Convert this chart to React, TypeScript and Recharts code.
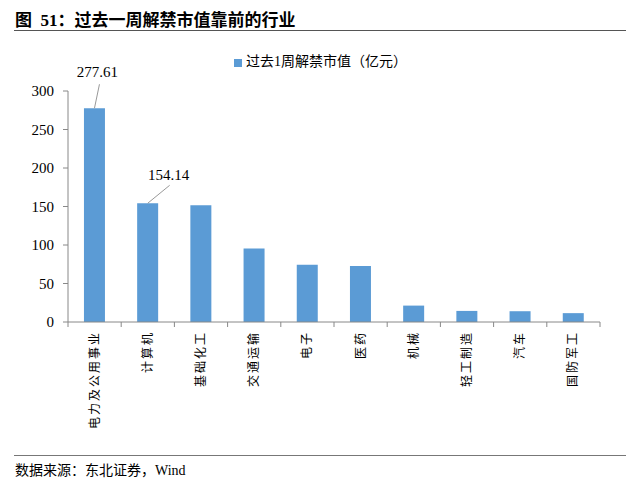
import React from "react";
import { BarChart, Bar, XAxis, YAxis, Legend, LabelList } from "recharts";

const categories = ["电力及公用事业", "计算机", "基础化工", "交通运输", "电子", "医药", "机械", "轻工制造", "汽车", "国防军工"];
const unlockValues = [277.61, 154.14, 151.6, 95.6, 74.3, 72.7, 21.3, 14.4, 14.0, 11.5];
const yTicks = [0, 50, 100, 150, 200, 250, 300];
const labelledBars = [0, 1];

const seriesName = "过去1周解禁市值（亿元）";
const serif = "'Liberation Serif', 'Noto Sans CJK SC', serif";

const data = categories.map((c, i) => ({ name: c, value: unlockValues[i] }));

// x轴刻度：文字竖排，刻度线画在类目边界
const XTick = (props: any) => {
  const { x, y, payload, index } = props;
  const half = payload.offset || 0;
  return (
    <g>
      <line x1={x - half} y1={y - 8} x2={x - half} y2={y - 3} stroke="#888" />
      {index === categories.length - 1 && (
        <line x1={x + half} y1={y - 8} x2={x + half} y2={y - 3} stroke="#888" />
      )}
      <text
        transform={`translate(${x + 4},${y + 1}) rotate(-90)`}
        textAnchor="end"
        fontSize={12}
        letterSpacing={2}
        fill="#000"
        fontFamily={serif}
      >
        {payload.value}
      </text>
    </g>
  );
};

const ValueLabel = (props: any) => {
  const { x, y, width, value, index } = props;
  if (!labelledBars.includes(index)) return null;
  const cx = x + width / 2;
  const end = index === 0 ? { dx: 5, dy: -24 } : { dx: 22, dy: -18 };
  const txt = index === 0 ? { dx: 3, dy: -31 } : { dx: 21, dy: -23 };
  return (
    <g>
      <line x1={cx} y1={y} x2={cx + end.dx} y2={y + end.dy} stroke="#999" />
      <text x={cx + txt.dx} y={y + txt.dy} textAnchor="middle" fontSize={15} fontFamily={serif} fill="#000">
        {Number(value).toFixed(2)}
      </text>
    </g>
  );
};

export default function App() {
  return (
    <div style={{ position: "absolute", left: 0, top: 0, width: 640, height: 485, background: "#fff", fontFamily: serif }}>
      <div style={{ position: "absolute", left: 15, top: 6, fontSize: 17, fontWeight: "bold", color: "#000" }}>
        图&nbsp;&nbsp;51：过去一周解禁市值靠前的行业
      </div>
      <div style={{ position: "absolute", left: 14, top: 30, width: 612, height: 1, borderTop: "1.5px solid #555" }} />
      <BarChart
        width={640}
        height={485}
        data={data}
        margin={{ top: 91, right: 40, bottom: 43, left: 28 }}
        barCategoryGap="30%"
      >
        <XAxis
          dataKey="name"
          interval={0}
          height={120}
          axisLine={{ stroke: "#888" }}
          tickLine={false}
          tick={<XTick />}
        />
        <YAxis
          domain={[0, 300]}
          ticks={yTicks}
          width={40}
          axisLine={{ stroke: "#888" }}
          tickLine={{ stroke: "#888" }}
          tickSize={5}
          tickMargin={9}
          tick={{ fontSize: 15, fill: "#000", fontFamily: serif }}
        />
        <Legend
          layout="vertical"
          verticalAlign="middle"
          align="center"
          iconType="square"
          iconSize={8}
          wrapperStyle={{ top: 50, left: 234, width: 200, fontSize: 14, fontFamily: serif }}
          formatter={(v: string) => <span style={{ color: "#000" }}>{v}</span>}
        />
        <Bar dataKey="value" name={seriesName} fill="#5B9BD5" isAnimationActive={false}>
          <LabelList dataKey="value" content={<ValueLabel />} />
        </Bar>
      </BarChart>
      <div style={{ position: "absolute", left: 14, top: 455, width: 612, height: 1, borderTop: "1px solid #777" }} />
      <div style={{ position: "absolute", left: 15, top: 459, fontSize: 14, color: "#000" }}>
        数据来源：东北证券，Wind
      </div>
    </div>
  );
}
